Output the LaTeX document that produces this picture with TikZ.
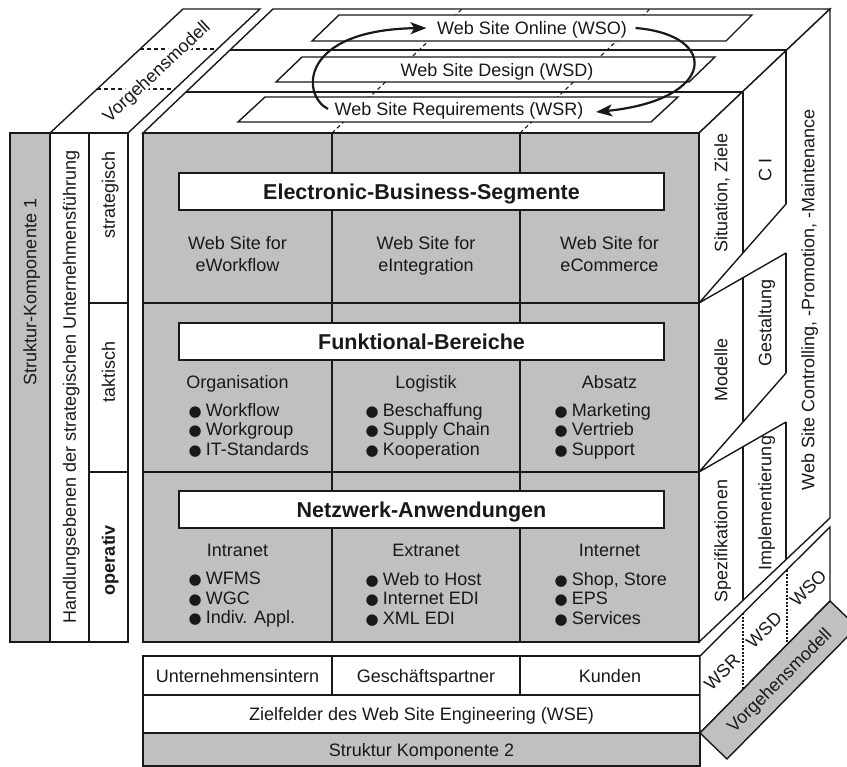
\documentclass[tikz,border=0pt]{standalone}
\usepackage{fontspec}
\setmainfont{Liberation Sans}
\newfontfamily\dejavu{DejaVu Sans}
\usetikzlibrary{arrows.meta}
\definecolor{fgray}{RGB}{192,192,192}
\definecolor{ink}{RGB}{25,25,25}
\newcommand{\bul}{{\dejavu\fontsize{15}{15}\selectfont ●}\hspace{4pt}}
\begin{document}
\begin{tikzpicture}[x=1pt,y=-1pt,line width=1.4pt,color=ink,line join=miter,
  every node/.style={inner sep=0pt,text=ink,font=\fontsize{18}{22}\selectfont},
  lbl/.style={text height=12.9pt,text depth=0pt},
  tbox/.style={draw,fill=white,minimum width=485pt,minimum height=37pt,font=\bfseries\fontsize{21.5}{24}\selectfont,text height=15.4pt,text depth=0pt},
  hid/.style={line width=1.1pt,dash pattern=on 4pt off 3pt},
  dotl/.style={line width=1.3pt,dash pattern=on 2pt off 1.5pt},
  cyc/.style={line width=2.2pt,-{Stealth[length=16pt,width=12pt,inset=4pt]}},
  items/.style={align=left,anchor=north west,font=\fontsize{18}{19.5}\selectfont},
  twoline/.style={align=center,anchor=north,font=\fontsize{18}{22}\selectfont}]
\useasboundingbox (0,0) rectangle (847,767);
\clip (0,0) rectangle (847,767);

% top-left Vorgehensmodell slab
\draw[fill=white] (50,133) -- (128,133) -- (260,9) -- (183,9) -- cycle;
\draw[hid] (97,89) -- (175,89);
\draw[hid] (140,49) -- (218,49);
\node[lbl,rotate=43,fill=white,inner sep=1.5pt] (vm1) at (156,71) {Vorgehensmodell};

% top face
\draw[fill=white] (143,133) -- (273,9) -- (830,9) -- (699,133) -- cycle;
\draw (186,92) -- (743,92);
\draw (230,50) -- (786,50);
\draw[hid] (332,133) -- (462,9);
\draw[hid] (520,133) -- (650,9);
\draw[fill=white] (312,41) -- (339,15) -- (752,15) -- (726,41) -- cycle;
\draw[fill=white] (276,82) -- (302,57) -- (715,57) -- (689,82) -- cycle;
\draw[fill=white] (238,122) -- (265,97) -- (678,97) -- (651,122) -- cycle;
\node[lbl] (wso) at (532,28) {Web Site Online (WSO)};
\node[lbl] (wsd) at (497,70) {Web Site Design (WSD)};
\node[lbl] (wsr) at (459,109) {Web Site Requirements (WSR)};

% right face
\draw[fill=white] (699,133) -- (830,9) -- (830,518) -- (699,642) -- cycle;
\draw (743,92) -- (743,253) (743,278) -- (743,422) (743,447) -- (743,600);
\draw (786,50) -- (786,204) (786,253) -- (786,373) (786,422) -- (786,559);
\draw (786,204) -- (699,303) -- (786,253);
\draw (786,373) -- (699,472) -- (786,422);
\node[lbl,rotate=90] (sz) at (721,193) {Situation, Ziele};
\node[lbl,rotate=90] (ci) at (765,170) {C I};
\node[lbl,rotate=90] (mod) at (721,370) {Modelle};
\node[lbl,rotate=90] (ges) at (765,323) {Gestaltung};
\node[lbl,rotate=90] (spz) at (721,541) {Spezifikationen};
\node[lbl,rotate=90] (imp) at (765,503) {Implementierung};
\node[lbl,rotate=90] (wsc) at (808,300) {Web Site Controlling, -Promotion, -Maintenance};

% front face
\draw[fill=fgray] (143,133) rectangle (699,642);
\draw (332,133) -- (332,642) (520,133) -- (520,642) (143,303) -- (699,303) (143,472) -- (699,472);
\node[tbox] (ebs) at (421.5,191.5) {Electronic-Business-Segmente};
\node[tbox] (fb) at (421.5,341.5) {Funktional-Bereiche};
\node[tbox] (nwa) at (421.5,509.5) {Netzwerk-Anwendungen};

\node[twoline] (wf) at (237.5,235.5) {Web Site for\\eWorkflow};
\node[twoline] (wi) at (426,235.5) {Web Site for\\eIntegration};
\node[twoline] (wc) at (609.5,235.5) {Web Site for\\eCommerce};

\node[lbl] (org) at (237.5,382) {Organisation};
\node[lbl] (log) at (426,382) {Logistik};
\node[lbl] (abs) at (609.5,382) {Absatz};
\node[items] (i21) at (188,402.6) {\bul Workflow\\\bul Workgroup\\\bul IT-Standards};
\node[items] (i22) at (365,402.6) {\bul Beschaffung\\\bul Supply Chain\\\bul Kooperation};
\node[items] (i23) at (554,402.6) {\bul Marketing\\\bul Vertrieb\\\bul Support};

\node[lbl] (intra) at (237.5,550) {Intranet};
\node[lbl] (extra) at (426,550) {Extranet};
\node[lbl] (inter) at (609.5,550) {Internet};
\node[items] (i31) at (188,571.6) {\bul WFMS\\\bul WGC\\\bul Indiv. Appl.};
\node[items] (i32) at (365,571.6) {\bul Web to Host\\\bul Internet EDI\\\bul XML EDI};
\node[items] (i33) at (554,571.6) {\bul Shop, Store\\\bul EPS\\\bul Services};

% left columns
\draw[fill=fgray] (10,133) rectangle (50,642);
\draw[fill=white] (50,133) rectangle (89,642);
\draw[fill=white] (89,133) rectangle (128,642);
\draw (89,303) -- (128,303) (89,472) -- (128,472);
\node[lbl,rotate=90] (sk1) at (30,292) {Struktur-Komponente 1};
\node[lbl,rotate=90] (hse) at (69.5,387) {Handlungsebenen der strategischen Unternehmensführung};
\node[lbl,rotate=90] (strat) at (108.5,195) {strategisch};
\node[lbl,rotate=90] (takt) at (108.5,372) {taktisch};
\node[lbl,rotate=90,font=\bfseries\fontsize{18}{22}\selectfont] (oper) at (108.5,560) {operativ};

% bottom table
\draw[fill=white] (143,656) rectangle (700,733);
\draw (143,695) -- (700,695) (332,656) -- (332,695) (520,656) -- (520,695);
\draw[fill=fgray] (143,733) rectangle (700,766);
\node[lbl] (uin) at (237.5,676) {Unternehmensintern};
\node[lbl] (gp) at (426,676) {Geschäftspartner};
\node[lbl] (kd) at (610,676) {Kunden};
\node[lbl] (zf) at (421.5,714) {Zielfelder des Web Site Engineering (WSE)};
\node[lbl] (sk2) at (421.5,750) {Struktur Komponente 2};

% bottom-right Vorgehensmodell slab
\draw[fill=white] (700,656) -- (830,527) -- (830,601) -- (700,733) -- cycle;
\draw[dotl] (743,613) -- (743,689) (787,570) -- (787,645);
\draw[fill=fgray] (700,733) -- (830,601) -- (857,627) -- (727,759) -- cycle;
\node[lbl,rotate=45] (r1) at (722,672) {WSR};
\node[lbl,rotate=45] (r2) at (764,630) {WSD};
\node[lbl,rotate=45] (r3) at (808,588) {WSO};
\node[lbl,rotate=45] (vm2) at (779,680) {Vorgehensmodell};

% cycle arrows
\draw[cyc] ([xshift=-6pt]wsr.west) .. controls +(-27,-14) and +(-127,2) .. ([xshift=-10pt]wso.west);
\draw[cyc] ([xshift=8pt]wso.east) .. controls +(85,7) and +(120,-12) .. ([xshift=12pt,yshift=-3pt]wsr.east);
\end{tikzpicture}
\end{document}
